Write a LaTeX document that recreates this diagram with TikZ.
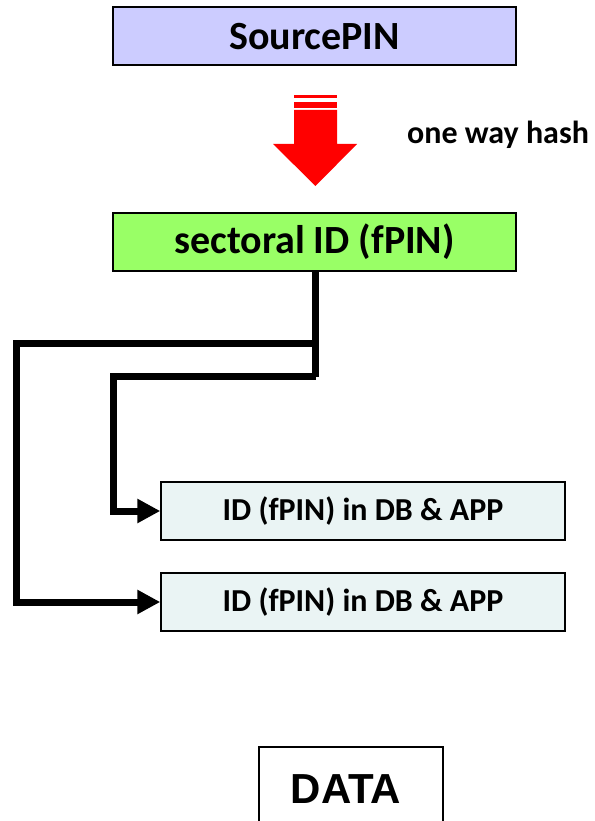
\documentclass[tikz,border=0pt]{standalone}
\usepackage{fontspec}
\setmainfont{Carlito}
\newfontfamily\arialfont{Liberation Sans}
\usetikzlibrary{arrows.meta}
\definecolor{srcfill}{HTML}{CCCCFF}
\definecolor{secfill}{HTML}{99FF66}
\definecolor{idfill}{HTML}{EAF4F4}
\begin{document}
\begin{tikzpicture}[x=1pt,y=-1pt,
  bigbox/.style={draw=black,line width=2pt,minimum width=403pt,minimum height=58pt,inner sep=0pt,font=\fontsize{40}{44}\selectfont\bfseries},
  idbox/.style={draw=black,line width=1.5pt,fill=idfill,minimum width=404pt,minimum height=58pt,inner sep=0pt,font=\fontsize{32}{36}\selectfont\bfseries},
  conn/.style={line width=7pt,miter limit=10},
  tip/.style={-{Triangle[length=23pt,width=23pt]}}]
\useasboundingbox (0,0) rectangle (594,821);
\node[bigbox,fill=srcfill] (src) at (314.5,36.5) {SourcePIN};
\node[bigbox,fill=secfill] (sec) at (314.5,241.5) {sectoral ID (fPIN)};
\node[anchor=west,inner sep=0pt,font=\fontsize{32}{36}\selectfont\bfseries] (hash) at (407,135) {one way hash};
% striped red arrow
\fill[red] (294,95) rectangle (337,98);
\fill[red] (294,102) rectangle (337,108);
\fill[red] (294,110) -- (337,110) -- (337,144) -- (357,144) -- (315.5,186) -- (273,144) -- (294,144) -- cycle;
\node[idbox] (id1) at (363,511) {ID (fPIN) in DB \& APP};
\node[idbox] (id2) at (363,602) {ID (fPIN) in DB \& APP};
\node[draw=black,line width=1.5pt,minimum width=184pt,minimum height=84pt,inner sep=0pt,font=\arialfont\fontsize{42}{46}\selectfont\bfseries] (data) at (351,789) {DATA\rule{10pt}{0pt}};
\coordinate (j1) at (315.5,343.5);
\coordinate (j2) at (315.5,376.5);
\coordinate (c1) at (16.5,343.5);
\coordinate (c2) at (113.5,376.5);
\draw[conn] (sec.south -| j1) -- (j1) -- (j2);
\draw[conn,tip] (j1) -- (c1) |- (id2.west);
\draw[conn,tip] (j2) -- (c2) |- (id1.west);
\end{tikzpicture}
\end{document}
